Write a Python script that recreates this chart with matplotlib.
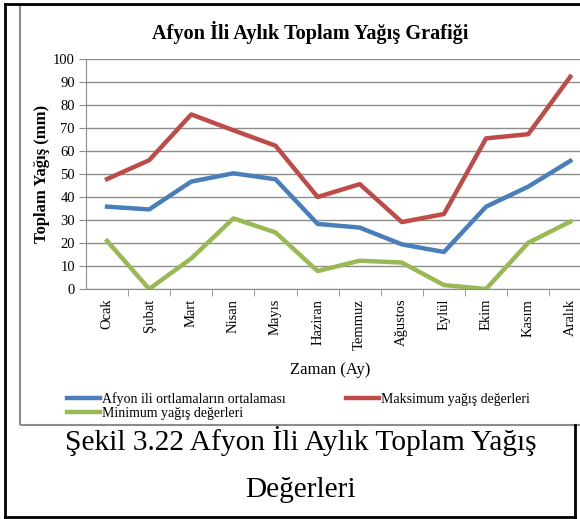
import matplotlib
matplotlib.use("Agg")
import matplotlib.pyplot as plt
from matplotlib.patches import Rectangle
from matplotlib.lines import Line2D

plt.rcParams['font.family'] = ['Liberation Serif', 'DejaVu Serif']

# data
months = ['Ocak', 'Şubat', 'Mart', 'Nisan', 'Mayıs', 'Haziran',
          'Temmuz', 'Ağustos', 'Eylül', 'Ekim', 'Kasım', 'Aralık']
ortalama = [35.8, 34.6, 46.7, 50.3, 47.7, 28.3, 26.7, 19.4, 16.1, 35.8, 44.5, 55.7]
maksimum = [47.8, 56.0, 75.9, 69.0, 62.3, 40.0, 45.6, 29.1, 32.6, 65.5, 67.3, 92.3]
minimum = [20.9, 0.0, 13.3, 30.7, 24.6, 7.8, 12.3, 11.5, 1.7, 0.0, 20.1, 29.3]
yticks = list(range(0, 101, 10))

W, H = 580, 519
fig = plt.figure(figsize=(W / 100, H / 100), dpi=100)

# outer document frame and inner chart frame (pixel coords)
def px(x0, y0, x1, y1, **kw):
    fig.patches.append(Rectangle((x0 / W, 1 - y1 / H), (x1 - x0) / W, (y1 - y0) / H,
                                 transform=fig.transFigure, fill=False, **kw))

px(20, 5, 590, 425, edgecolor='#8c8c8c', linewidth=1.5)
fig.add_artist(Line2D([5 / W, 5 / W], [1 - 4 / H, 1 - 517 / H], color='black', lw=2))
fig.add_artist(Line2D([5 / W, 1], [1 - 4 / H, 1 - 4 / H], color='black', lw=2))
fig.add_artist(Line2D([5 / W, 575 / W], [1 - 517 / H, 1 - 517 / H], color='black', lw=2))
fig.add_artist(Line2D([575 / W, 575 / W], [1 - 425 / H, 1 - 517 / H], color='black', lw=2))

ax = fig.add_axes([86 / W, 1 - 289 / H, (580 - 86) / W, (289 - 59) / H])
x = list(range(len(months)))
l1, = ax.plot(x, ortalama, color='#4a7ebb', lw=3.2, solid_joinstyle='round')
l2, = ax.plot(x, maksimum, color='#be4b48', lw=3.2, solid_joinstyle='round')
l3, = ax.plot(x, minimum, color='#98b954', lw=3.2, solid_joinstyle='round')

ax.set_yticks(yticks)
ax.set_yticklabels([str(v) for v in yticks], fontsize=10.5)
ax.set_xticks(x)
ax.set_xticklabels(months, rotation=90, fontsize=10.5)
ax.tick_params(axis='x', length=0, pad=7)
ax.tick_params(axis='y', length=5, color='#8c8c8c', pad=3)
ax.set_xticks([i - 0.5 for i in range(1, 13)], minor=True)
ax.tick_params(axis='x', which='minor', length=5, color='#8c8c8c', direction='out')
ax.set_ylim(0, 100)
ax.set_xlim(-0.5, 11.23)
ax.grid(axis='y', color='#8c8c8c', lw=1)
ax.set_axisbelow(True)
for s in ['top', 'right']:
    ax.spines[s].set_visible(False)
for s in ['left', 'bottom']:
    ax.spines[s].set_color('#8c8c8c')

ax.set_ylabel('Toplam Yağış (mm)', fontsize=12, fontweight='bold')
ax.yaxis.set_label_coords(-36 / (580 - 86), 0.5)
fig.text(330 / W, 1 - 370 / H, 'Zaman (Ay)', fontsize=12, ha='center', va='center')
fig.text(310 / W, 1 - 33 / H, 'Afyon İli Aylık Toplam Yağış Grafiği', fontsize=14.6,
         fontweight='bold', ha='center', va='center')

leg = fig.legend([l1, l3, l2], ['Afyon ili ortlamaların ortalaması', 'Minimum yağış değerleri',
                                'Maksimum yağış değerleri'],
                 ncol=2, loc='upper left', bbox_to_anchor=(67 / W, 1 - 392 / H), frameon=False,
                 fontsize=10, handlelength=2.4, handletextpad=0.15, columnspacing=4.3,
                 labelspacing=0.1, borderaxespad=0, borderpad=0)

fig.text(301 / W, 1 - 441 / H, 'Şekil 3.22 Afyon İli Aylık Toplam Yağış', fontsize=21.2,
         ha='center', va='center')
fig.text(301 / W, 1 - 490 / H, 'Değerleri', fontsize=21.2, ha='center', va='center')

fig.savefig('out.png', dpi=100)
